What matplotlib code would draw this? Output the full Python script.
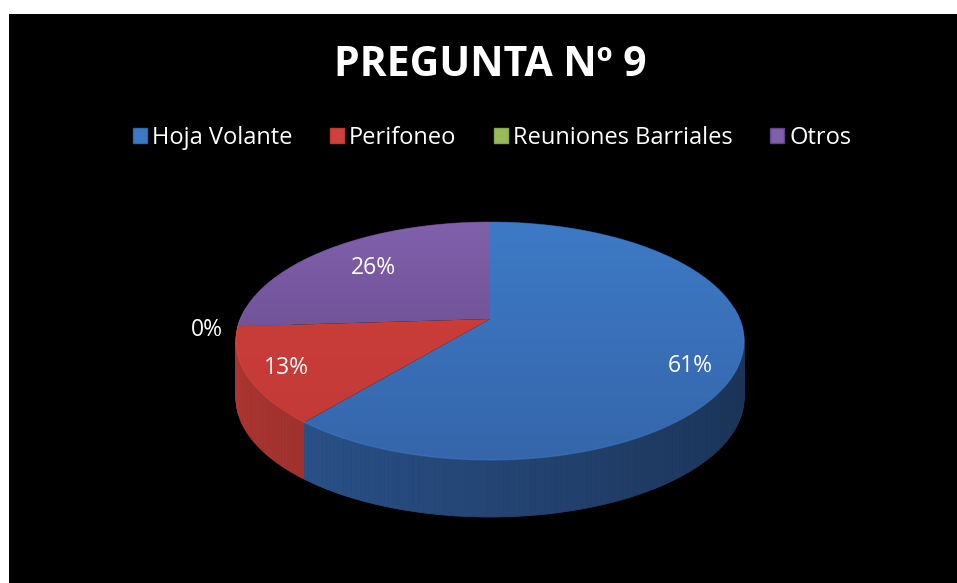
import numpy as np
import matplotlib
matplotlib.use("Agg")
import matplotlib.pyplot as plt
from matplotlib.patches import Polygon, Rectangle, Patch

# datos de la pregunta
categorias = ["Hoja Volante", "Perifoneo", "Reuniones Barriales", "Otros"]
porcentajes = [61, 13, 0, 26]
titulo = "PREGUNTA Nº 9"

# colores (cara superior arriba / abajo, lateral)
col_top = ["#3d7ac6", "#d0403c", "#9bbb59", "#8060aa"]
col_bot = ["#3566ab", "#c03935", "#88a84c", "#5f4486"]
col_side = ["#284d82", "#9a302c", "#6f8a3c", "#4e3870"]

# posicion de las etiquetas (radio relativo, desplazamiento vertical px)
etq_r = [0.81, 0.85, 1.12, 0.7]
etq_dy = [14, 1, 3, 0]

plt.rcParams['font.family'] = ['Open Sans', 'DejaVu Sans']

fig = plt.figure(figsize=(9.57, 5.83), dpi=100, facecolor="white")
ax = fig.add_axes([0, 0, 1, 1])
ax.set_xlim(0, 957)
ax.set_ylim(583, 0)
ax.axis("off")
ax.add_patch(Rectangle((9, 14), 957 - 9, 583 - 14, facecolor="black", zorder=0))

# geometria del pastel 3D (perspectiva simple)
cx, cy = 490, 319
A, B, k = 249.6, 114.9, 0.185
prof = 57


def proyectar(alpha_deg, r=1.0):
    a = np.radians(alpha_deg)
    u = np.sin(a) * r
    v = -np.cos(a) * r
    w = 1 - k * v
    return cx + A * u / w, cy + B * v / w


def mezclar(c, f):
    rgb = np.array(matplotlib.colors.to_rgb(c)) * f
    return tuple(np.clip(rgb, 0, 1))


total = sum(porcentajes)
angulos = np.cumsum([0] + [p / total * 360 for p in porcentajes])

# paredes laterales (de atras hacia adelante)
quads = []
for i, p in enumerate(porcentajes):
    if p == 0:
        continue
    a0, a1 = angulos[i], angulos[i + 1]
    n = max(int((a1 - a0) / 1.0), 2)
    aa = np.linspace(a0, a1, n + 1)
    for j in range(n):
        x0, y0 = proyectar(aa[j])
        x1, y1 = proyectar(aa[j + 1])
        shade = 1.12 - 0.45 * (np.sin(np.radians((aa[j] + aa[j + 1]) / 2)) + 1) / 2
        quads.append(((y0 + y1) / 2, [(x0, y0), (x1, y1), (x1, y1 + prof), (x0, y0 + prof)],
                      mezclar(col_side[i], shade)))
quads.sort(key=lambda q: q[0])
for _, pts, c in quads:
    ax.add_patch(Polygon(pts, closed=True, facecolor=c, edgecolor=c, lw=0.6, zorder=2))

# cara superior con degradado
y_top = proyectar(0)[1]
y_bot = proyectar(180)[1]
for i, p in enumerate(porcentajes):
    if p == 0:
        continue
    a0, a1 = angulos[i], angulos[i + 1]
    aa = np.linspace(a0, a1, 200)
    pts = [(cx, cy)] + [proyectar(a) for a in aa]
    poly = Polygon(pts, closed=True, facecolor="none", edgecolor="none", zorder=3)
    ax.add_patch(poly)
    c_a = np.array(matplotlib.colors.to_rgb(col_top[i]))
    c_b = np.array(matplotlib.colors.to_rgb(col_bot[i]))
    t = np.linspace(0, 1, 256)[:, None, None]
    grad = c_a * (1 - t) + c_b * t
    im = ax.imshow(grad, extent=(cx - 300, cx + 300, y_bot, y_top), origin="upper",
                   aspect="auto", zorder=3, interpolation="bilinear")
    im.set_clip_path(poly)
    # brillo del borde frontal
    fr = [a for a in aa if -np.cos(np.radians(a)) > -0.1]
    if fr:
        xs, ys = zip(*[proyectar(a) for a in fr])
        ax.plot(xs, ys, color=mezclar(col_top[i], 1.2), lw=0.9, alpha=0.35, zorder=4)

ax.set_xlim(0, 957)
ax.set_ylim(583, 0)

# etiquetas de porcentaje
for i, p in enumerate(porcentajes):
    mid = (angulos[i] + angulos[i + 1]) / 2
    x, y = proyectar(mid, etq_r[i])
    ax.text(x, y + etq_dy[i], f"{p}%", color="white", fontsize=16.5,
            ha="center", va="center", zorder=5)

ax.text(490, 65, titulo, color="white", fontsize=29.5, fontweight="bold",
        ha="center", va="center", zorder=5)

handles = [Patch(facecolor=col_top[i], edgecolor=col_bot[i]) for i in range(len(categorias))]
leg = ax.legend(handles, categorias, loc="center", bbox_to_anchor=(492 / 957, 1 - 138 / 583),
                ncol=4, frameon=False, fontsize=17, labelcolor="white",
                handlelength=0.6, handleheight=0.6, handletextpad=0.2, columnspacing=1.6)

fig.savefig("out.png", dpi=100, facecolor="white")
